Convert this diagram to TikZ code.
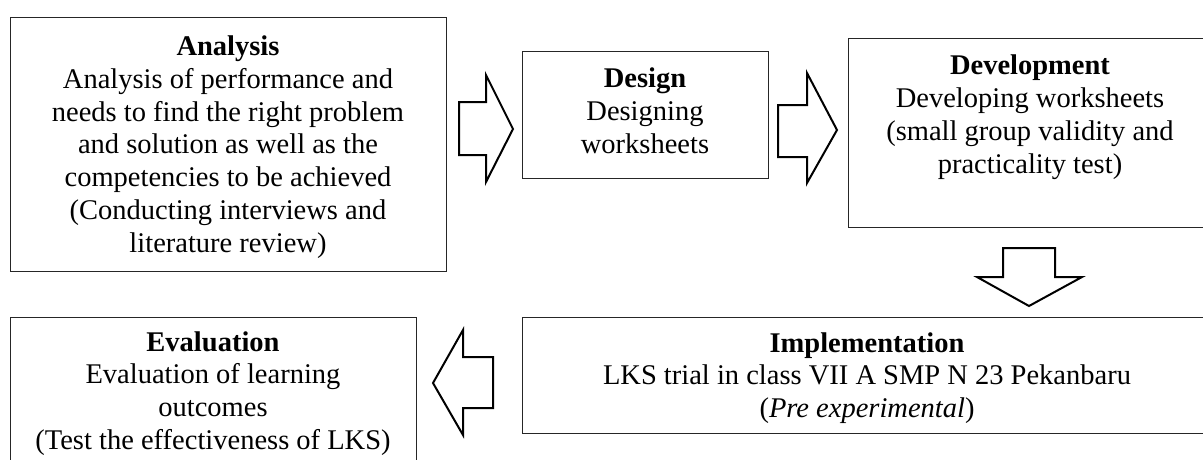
\documentclass[tikz,border=0pt]{standalone}
\usepackage{fontspec}
\setmainfont{Liberation Serif}
\begin{document}
\begin{tikzpicture}[x=1pt,y=-1pt,
  box/.style={draw=black!85,line width=1.1pt,inner sep=0pt,anchor=north west},
  txt/.style={align=center,inner sep=0pt,font=\fontsize{28.5}{32.8}\selectfont},
  blockarrow/.style={draw=black,line width=2pt,line join=miter,fill=white}]
\useasboundingbox (0,0) rectangle (1203,459);
\clip (0,0) rectangle (1203,459);
% boxes
\node[box,minimum width=436pt,minimum height=254pt] (ana) at (10,17) {};
\node[box,minimum width=246pt,minimum height=127pt] (des) at (522,51) {};
\node[box,minimum width=364pt,minimum height=189pt] (dev) at (848,38) {};
\node[box,minimum width=690pt,minimum height=116pt] (imp) at (522,317) {};
\node[box,minimum width=406pt,minimum height=160pt] (eva) at (10,317) {};
% texts
\node[txt] (anat) at (228,147) {\textbf{Analysis}\\Analysis of performance and\\needs to find the right problem\\and solution as well as the\\competencies to be achieved\\(Conducting interviews and\\literature review)};
\node[txt] (dest) at (645,110.5) {\textbf{Design}\\Designing\\worksheets};
\node[txt] (devt) at (1030,117) {\textbf{Development}\\Developing worksheets\\(small group validity and\\practicality test)};
\node[txt] (impt) at (867,378) {\textbf{Implementation}\\LKS trial in class VII A SMP N 23 Pekanbaru\\(\textit{Pre experimental})};
\node[txt] (evat) at (213,393.5) {\textbf{Evaluation}\\Evaluation of learning\\outcomes\\(Test the effectiveness of LKS)};
% block arrows
\draw[blockarrow] (459,102) -- (486,102) -- (486,75) -- (513,129) -- (486,182) -- (486,155) -- (459,155) -- cycle;
\draw[blockarrow] (778,105) -- (807,105) -- (807,73) -- (837,130) -- (807,183) -- (807,157) -- (778,157) -- cycle;
\draw[blockarrow] (1003,248) -- (1055,248) -- (1055,277) -- (1082,277) -- (1029,306) -- (977,277) -- (1003,277) -- cycle;
\draw[blockarrow] (493,357) -- (463,357) -- (463,330) -- (433,383) -- (463,435) -- (463,408) -- (493,408) -- cycle;
\end{tikzpicture}
\end{document}
